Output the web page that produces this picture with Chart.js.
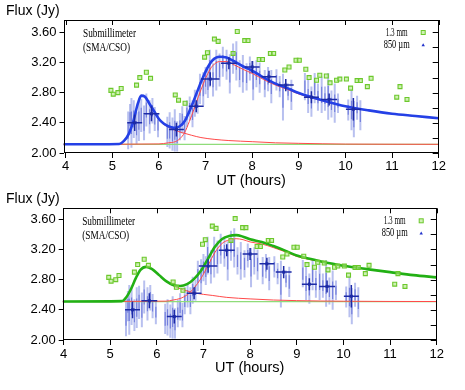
<!DOCTYPE html>
<html>
<head>
<meta charset="utf-8">
<script src="https://cdn.jsdelivr.net/npm/chart.js@4.4.1/dist/chart.umd.min.js"></script>
<style>
  html, body { margin: 0; padding: 0; background: #fff; }
  #wrap { position: relative; width: 465px; height: 390px; }
  .panel { position: absolute; left: 0; width: 465px; }
  #top { top: 0; height: 190px; }
  #bottom { top: 190px; height: 200px; }
</style>
</head>
<body>
<div id="wrap">
  <div class="panel" id="top"><canvas id="c1"></canvas></div>
  <div class="panel" id="bottom"><canvas id="c2"></canvas></div>
</div>
<script>
// axis ticks
const xTicks = [4, 5, 6, 7, 8, 9, 10, 11, 12];
const yTicks = [2.0, 2.2, 2.4, 2.6, 2.8, 3.0, 3.2, 3.4, 3.6];

// 1.3 mm points (UT hours / Jy)
const mmTime = [4.97, 5.02, 5.12, 5.19, 5.52, 5.59, 5.73, 5.82, 6.35, 6.42, 6.56, 6.98, 7.04, 7.19, 7.27,
  7.59, 7.68, 7.84, 7.91, 8.15, 8.22, 8.39, 8.46, 8.70, 8.79, 8.94, 9.01, 9.15, 9.22, 9.38, 9.45,
  9.59, 9.67, 9.81, 9.88, 10.02, 10.11, 10.25, 10.32, 10.47, 10.55, 11.10, 11.17, 11.32];
const mmFlux = [2.83, 2.78, 2.80, 2.855, 2.90, 3.00, 3.07, 2.99, 2.77, 2.70, 2.66, 3.27, 3.33, 3.51, 3.48,
  3.32, 3.61, 3.49, 3.49, 3.24, 3.24, 3.32, 3.32, 3.10, 3.14, 3.23, 3.23, 3.11, 3.00, 2.965, 3.03,
  3.02, 2.93, 2.965, 2.98, 2.98, 2.86, 2.96, 2.96, 2.88, 2.99, 2.74, 2.88, 2.71];

// 850 um single points with 1-sigma errors
const subTime = [5.34, 5.38, 5.41, 5.46, 5.52, 5.57, 5.62, 5.68, 5.73, 5.80, 5.86, 5.91, 5.98, 6.18, 6.23,
  6.29, 6.34, 6.39, 6.45, 6.50, 6.55, 6.60, 6.66, 6.72, 6.77, 6.83, 6.88, 6.95, 7.00, 7.05, 7.09,
  7.16, 7.23, 7.30, 7.37, 7.45, 7.52, 7.59, 7.66, 7.73, 7.80, 7.88, 7.95, 8.02, 8.09, 8.16, 8.27,
  8.34, 8.41, 8.52, 8.59, 8.66, 8.77, 8.84, 9.13, 9.20, 9.27, 9.34, 9.41, 9.49, 9.56, 9.63, 9.70,
  9.77, 9.84, 10.06, 10.13, 10.18, 10.25, 10.32];
const subFlux = [2.30, 2.45, 2.40, 2.45, 2.33, 2.43, 2.50, 2.40, 2.57, 2.48, 2.56, 2.45, 2.37, 2.28, 2.30,
  2.25, 2.30, 2.22, 2.35, 2.44, 2.33, 2.52, 2.59, 2.52, 2.66, 2.66, 2.85, 2.85, 2.96, 2.92, 3.12,
  2.97, 3.10, 3.10, 3.21, 3.17, 3.05, 3.25, 3.22, 3.05, 3.05, 3.01, 3.12, 2.96, 3.05, 3.00, 2.92,
  2.98, 2.88, 2.97, 2.88, 2.74, 2.81, 2.77, 2.88, 2.75, 2.68, 2.86, 2.74, 2.77, 2.72, 2.75, 2.65,
  2.66, 2.66, 2.57, 2.57, 2.45, 2.60, 2.50];
const subErr = [0.25, 0.20, 0.33, 0.25, 0.21, 0.27, 0.22, 0.23, 0.22, 0.22, 0.17, 0.16, 0.16, 0.20, 0.24,
  0.22, 0.28, 0.20, 0.18, 0.18, 0.16, 0.18, 0.16, 0.18, 0.18, 0.14, 0.20, 0.22, 0.18, 0.19, 0.25,
  0.22, 0.27, 0.22, 0.20, 0.20, 0.26, 0.20, 0.26, 0.18, 0.25, 0.18, 0.16, 0.26, 0.18, 0.20, 0.18,
  0.16, 0.22, 0.14, 0.14, 0.31, 0.11, 0.20, 0.18, 0.22, 0.20, 0.20, 0.18, 0.24, 0.16, 0.31, 0.18,
  0.26, 0.13, 0.14, 0.27, 0.24, 0.16, 0.20];

// 850 um binned points
const binTime = [5.48, 5.84, 6.375, 6.80, 7.10, 7.50, 8.00, 8.36, 8.72, 9.27, 9.65, 10.17];
const binFlux = [2.40, 2.52, 2.31, 2.62, 2.98, 3.19, 3.14, 3.01, 2.90, 2.74, 2.71, 2.58];
const binErrT = [0.16, 0.17, 0.16, 0.16, 0.20, 0.17, 0.16, 0.16, 0.17, 0.16, 0.17, 0.16];
const binErrF = [0.11, 0.10, 0.09, 0.08, 0.09, 0.08, 0.08, 0.08, 0.08, 0.08, 0.08, 0.15];

// upper fit: total, second flare, first flare, quiescent level
const topTotalT = [3.95, 5.15, 5.25, 5.35, 5.45, 5.55, 5.62, 5.70, 5.80, 5.90, 6.00, 6.10, 6.20, 6.32,
  6.45, 6.55, 6.65, 6.75, 6.85, 6.95, 7.05, 7.15, 7.30, 7.45, 7.60, 7.80, 8.00, 8.25, 8.50, 8.75,
  9.00, 9.25, 9.50, 10.0, 10.5, 11.0, 11.5, 12.0];
const topTotalF = [2.115, 2.12, 2.16, 2.25, 2.42, 2.66, 2.76, 2.745, 2.65, 2.55, 2.45, 2.39, 2.355, 2.335,
  2.355, 2.42, 2.55, 2.70, 2.86, 3.01, 3.14, 3.23, 3.275, 3.265, 3.22, 3.15, 3.09, 3.00, 2.92, 2.86,
  2.795, 2.745, 2.70, 2.62, 2.565, 2.52, 2.49, 2.46];
const topFlare2T = [3.95, 6.00, 6.20, 6.35, 6.45, 6.55, 6.65, 6.75, 6.85, 6.95, 7.05, 7.15, 7.30, 7.45,
  7.60, 7.80, 8.00, 8.25, 8.50, 8.75, 9.00, 9.25, 9.50, 10.0, 10.5, 11.0, 11.5, 12.0];
const topFlare2F = [2.115, 2.12, 2.135, 2.15, 2.19, 2.27, 2.415, 2.578, 2.753, 2.915, 3.055, 3.155, 3.212, 3.212,
  3.173, 3.11, 3.055, 2.973, 2.90, 2.844, 2.782, 2.735, 2.693, 2.617, 2.563, 2.519, 2.489, 2.46];
const topFlare1T = [3.95, 5.15, 5.25, 5.35, 5.45, 5.55, 5.62, 5.70, 5.80, 5.90, 6.00, 6.10, 6.20, 6.35,
  6.50, 6.70, 6.90, 7.20, 7.50, 8.00, 8.50, 9.00, 9.50, 10.0, 11.0, 12.0];
const topFlare1F = [2.115, 2.12, 2.16, 2.25, 2.42, 2.66, 2.755, 2.74, 2.64, 2.54, 2.44, 2.38, 2.345, 2.30,
  2.27, 2.235, 2.205, 2.18, 2.165, 2.15, 2.135, 2.128, 2.122, 2.118, 2.116, 2.115];
const topBaseT = [3.95, 12.0];
const topBaseF = [2.115, 2.115];

// lower fit
const botTotalT = [3.98, 5.25, 5.35, 5.45, 5.55, 5.65, 5.77, 5.90, 6.05, 6.20, 6.35, 6.50, 6.65, 6.80,
  6.95, 7.10, 7.25, 7.40, 7.55, 7.70, 7.85, 8.00, 8.25, 8.50, 8.75, 9.00, 9.25, 9.50, 10.0, 10.5,
  11.0, 11.5, 12.0];
const botTotalF = [2.51, 2.515, 2.57, 2.68, 2.82, 2.93, 2.97, 2.94, 2.86, 2.78, 2.73, 2.715, 2.74, 2.81,
  2.92, 3.08, 3.24, 3.34, 3.38, 3.39, 3.37, 3.335, 3.30, 3.245, 3.185, 3.12, 3.08, 3.045, 2.985, 2.94,
  2.90, 2.86, 2.83];
const botFlare2T = [3.98, 6.20, 6.35, 6.50, 6.65, 6.80, 6.95, 7.10, 7.25, 7.40, 7.55, 7.70, 7.85, 8.00,
  8.25, 8.50, 8.75, 9.00, 9.25, 9.50, 10.0, 10.5, 11.0, 11.5, 12.0];
const botFlare2F = [2.51, 2.515, 2.53, 2.55, 2.60, 2.69, 2.82, 2.99, 3.165, 3.28, 3.327, 3.343, 3.33, 3.30,
  3.273, 3.225, 3.17, 3.108, 3.071, 3.038, 2.981, 2.937, 2.897, 2.858, 2.828];
const botFlare1T = [3.98, 5.25, 5.35, 5.45, 5.55, 5.65, 5.77, 5.90, 6.05, 6.20, 6.35, 6.50, 6.65, 6.80,
  7.00, 7.20, 7.50, 8.00, 8.50, 9.00, 9.50, 10.0, 11.0, 12.0];
const botFlare1F = [2.51, 2.515, 2.57, 2.68, 2.82, 2.93, 2.97, 2.94, 2.86, 2.775, 2.72, 2.68, 2.65, 2.625,
  2.605, 2.59, 2.565, 2.545, 2.53, 2.522, 2.517, 2.514, 2.511, 2.51];
const botBaseT = [3.98, 12.0];
const botBaseF = [2.51, 2.51];

const sans = "'Liberation Sans', Arial, sans-serif";
const serif = "'Liberation Serif', 'Times New Roman', serif";

const pts = (ts, fs) => ts.map((t, i) => ({ x: t, y: fs[i] }));

const errorBars = {
  id: 'errorBars',
  beforeDatasetsDraw(chart) {
    const { ctx, chartArea: a, scales: { x, y } } = chart;
    ctx.save();
    ctx.beginPath();
    ctx.rect(a.left, a.top, a.width, a.height);
    ctx.clip();
    ctx.lineCap = 'butt';
    subTime.forEach((t, i) => {
      const px = x.getPixelForValue(t);
      ctx.strokeStyle = 'rgba(125,140,225,0.55)';
      ctx.lineWidth = 2;
      ctx.beginPath();
      ctx.moveTo(px, y.getPixelForValue(subFlux[i] - subErr[i]));
      ctx.lineTo(px, y.getPixelForValue(subFlux[i] + subErr[i]));
      ctx.stroke();
      ctx.strokeStyle = 'rgba(60,75,205,0.55)';
      ctx.lineWidth = 1.2;
      ctx.beginPath();
      ctx.moveTo(px, y.getPixelForValue(subFlux[i] - subErr[i] * 0.45));
      ctx.lineTo(px, y.getPixelForValue(subFlux[i] + subErr[i] * 0.45));
      ctx.stroke();
    });
    ctx.restore();
  },
  afterDatasetsDraw(chart) {
    const { ctx, chartArea: a, scales: { x, y } } = chart;
    ctx.save();
    ctx.beginPath();
    ctx.rect(a.left, a.top, a.width, a.height);
    ctx.clip();
    ctx.strokeStyle = '#1c2aa6';
    ctx.fillStyle = '#1c2aa6';
    ctx.lineWidth = 1.5;
    binTime.forEach((t, i) => {
      const px = x.getPixelForValue(t);
      const py = y.getPixelForValue(binFlux[i]);
      ctx.beginPath();
      ctx.moveTo(x.getPixelForValue(t - binErrT[i]), py);
      ctx.lineTo(x.getPixelForValue(t + binErrT[i]), py);
      ctx.moveTo(px, y.getPixelForValue(binFlux[i] - binErrF[i]));
      ctx.lineTo(px, y.getPixelForValue(binFlux[i] + binErrF[i]));
      ctx.stroke();
      ctx.fillRect(px - 1.5, py - 1.5, 3, 3);
    });
    ctx.restore();
  }
};

const frame = {
  id: 'frame',
  afterDraw(chart) {
    const { ctx, chartArea: a, scales: { x, y } } = chart;
    const p = chart.options.plugins.frame;
    ctx.save();
    ctx.strokeStyle = '#000';
    ctx.lineWidth = 1;
    ctx.strokeRect(Math.round(a.left) + 0.5, Math.round(a.top) + 0.5,
      Math.round(a.width) - 1, Math.round(a.height) - 1);
    ctx.beginPath();
    xTicks.forEach(v => {
      const px = Math.round(x.getPixelForValue(v)) + 0.5;
      ctx.moveTo(px, a.top);
      ctx.lineTo(px, a.top + 5);
    });
    yTicks.forEach(v => {
      const py = Math.round(y.getPixelForValue(v)) + 0.5;
      ctx.moveTo(a.right, py);
      ctx.lineTo(a.right - 6, py);
    });
    ctx.stroke();

    // caption and key
    ctx.fillStyle = '#000';
    ctx.textBaseline = 'middle';
    ctx.textAlign = 'left';
    ctx.font = '14px ' + sans;
    ctx.fillText('Flux (Jy)', 6, p.titleY);
    ctx.font = '11.5px ' + serif;
    ctx.fillText('Submillimeter', a.left + 19.5, a.top + 14, 53);
    ctx.fillText('(SMA/CSO)', a.left + 19.5, a.top + 27.5, 47);
    ctx.font = '12px ' + serif;
    ctx.fillText('1.3 mm', a.right - 53, a.top + 12.5, 22);
    ctx.fillText('850 \u00b5m', a.right - 55, a.top + 25, 26);
    const mx = a.right - 15.5;
    ctx.strokeStyle = '#6cc82c';
    ctx.fillStyle = 'rgba(175,230,130,0.6)';
    ctx.lineWidth = 1;
    ctx.fillRect(mx - 2, a.top + 10.5, 4, 4);
    ctx.strokeRect(mx - 2, a.top + 10.5, 4, 4);
    ctx.fillStyle = '#2233cc';
    ctx.beginPath();
    ctx.moveTo(mx - 1.7, a.top + 26.2);
    ctx.lineTo(mx + 1.7, a.top + 26.2);
    ctx.lineTo(mx, a.top + 23.2);
    ctx.closePath();
    ctx.fill();
    ctx.restore();
  }
};

function buildPanel(id, p) {
  const curve = (data, color, width) => ({
    type: 'line', data, borderColor: color, borderWidth: width,
    pointRadius: 0, fill: false, cubicInterpolationMode: 'monotone'
  });
  return new Chart(document.getElementById(id), {
    type: 'scatter',
    data: {
      datasets: [
        {
          data: pts(mmTime, mmFlux), pointStyle: 'rect', pointRadius: 2.8,
          borderColor: '#6cc82c', backgroundColor: 'rgba(175,230,130,0.6)', borderWidth: 1.1
        },
        curve(p.total, p.totalColor, 2.6),
        curve(p.flare2, '#ff4a4a', 1),
        curve(p.flare1, '#ff4a4a', 1),
        curve(p.base, '#8fdc7a', 1.2)
      ]
    },
    options: {
      responsive: true,
      maintainAspectRatio: false,
      animation: false,
      layout: { padding: { top: p.padTop, right: p.padRight, left: 0, bottom: p.padBottom } },
      plugins: {
        legend: { display: false },
        tooltip: { enabled: false },
        frame: { titleY: p.titleY }
      },
      scales: {
        x: {
          type: 'linear', min: p.xMin, max: 12,
          afterBuildTicks: s => { s.ticks = xTicks.map(v => ({ value: v })); },
          afterFit: s => { s.height = 37; },
          border: { display: false },
          grid: { drawOnChartArea: false, tickLength: 5, tickColor: '#000' },
          ticks: { color: '#000', padding: p.xTickPad, autoSkip: false, maxRotation: 0, font: { family: sans, size: 13 } },
          title: { display: true, text: 'UT (hours)', color: '#000', padding: { top: 0, bottom: 0.3 },
            font: { family: sans, size: 14.5 } }
        },
        y: {
          min: 2.0, max: p.yMax,
          afterBuildTicks: s => { s.ticks = yTicks.map(v => ({ value: v })); },
          afterFit: s => { s.width = p.yAxisW; },
          border: { display: false },
          grid: { drawOnChartArea: false, tickLength: 4, tickColor: '#000' },
          ticks: { color: '#000', padding: 3, font: { family: sans, size: 13 }, callback: v => v.toFixed(2) }
        }
      }
    },
    plugins: [errorBars, frame]
  });
}

buildPanel('c1', {
  total: pts(topTotalT, topTotalF), flare2: pts(topFlare2T, topFlare2F),
  flare1: pts(topFlare1T, topFlare1F), base: pts(topBaseT, topBaseF),
  totalColor: '#2440e6', xMin: 3.953, yMax: 3.763, xTickPad: 1,
  padTop: 20, padRight: 26.3, padBottom: 0, yAxisW: 63.5, titleY: 11
});
buildPanel('c2', {
  total: pts(botTotalT, botTotalF), flare2: pts(botFlare2T, botFlare2F),
  flare1: pts(botFlare1T, botFlare1F), base: pts(botBaseT, botBaseF),
  totalColor: '#22b014', xMin: 3.983, yMax: 3.746, xTickPad: 2,
  padTop: 18.3, padRight: 28.3, padBottom: 13, yAxisW: 62.7, titleY: 9
});
</script>
</body>
</html>
